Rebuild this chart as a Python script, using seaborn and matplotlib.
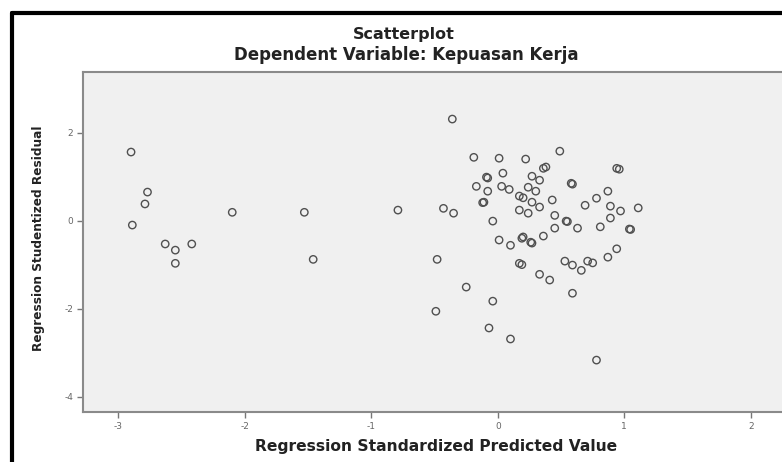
import matplotlib
matplotlib.use("Agg")
import matplotlib.pyplot as plt
from matplotlib.lines import Line2D
import seaborn as sns
import pandas as pd

# Regression Standardized Predicted Value
pred_left = [-2.90, -2.89, -2.77, -2.79, -2.63, -2.55, -2.55, -2.42, -2.10, -1.53,
             -1.46, -0.79, -0.43, -0.35, -0.48, -0.25, -0.49, -0.36]
resid_left = [1.56, -0.10, 0.65, 0.38, -0.53, -0.67, -0.97, -0.53, 0.19, 0.19,
              -0.88, 0.24, 0.28, 0.17, -0.88, -1.51, -2.06, 2.31]

pred_cluster = [-0.19, 0.01, 0.22, 0.36, 0.38, 0.49, 0.94, 0.96,
                -0.09, -0.08, 0.04, 0.27, 0.33,
                -0.17, -0.08, 0.03, 0.09, 0.24, 0.30,
                0.58, 0.59, 0.87, 0.78,
                -0.11, -0.12, 0.17, 0.20, 0.27, 0.33, 0.43,
                0.69, 0.89, 0.97, 1.11,
                0.17, 0.24, 0.45, 0.89,
                -0.04, 0.54, 0.55, 0.45, 0.63, 0.81, 1.04, 1.05,
                0.01, 0.10, 0.19, 0.20, 0.26, 0.27, 0.36,
                0.94, 0.87,
                0.17, 0.19, 0.53, 0.59, 0.66, 0.71, 0.75,
                0.33, 0.41, 0.59, -0.04, -0.07, 0.10, 0.78]
resid_cluster = [1.44, 1.42, 1.40, 1.19, 1.22, 1.58, 1.19, 1.17,
                 0.99, 0.97, 1.08, 1.01, 0.92,
                 0.78, 0.67, 0.78, 0.71, 0.76, 0.67,
                 0.85, 0.83, 0.67, 0.51,
                 0.42, 0.41, 0.56, 0.52, 0.42, 0.31, 0.47,
                 0.35, 0.33, 0.22, 0.29,
                 0.24, 0.17, 0.12, 0.06,
                 -0.01, -0.01, -0.02, -0.17, -0.17, -0.14, -0.19, -0.20,
                 -0.44, -0.56, -0.40, -0.37, -0.49, -0.51, -0.35,
                 -0.64, -0.83,
                 -0.97, -1.00, -0.92, -1.01, -1.13, -0.92, -0.96,
                 -1.22, -1.35, -1.65, -1.83, -2.44, -2.69, -3.17]

x_ticks = [-3, -2, -1, 0, 1, 2]
y_ticks = [2, 0, -2, -4]

title = "Scatterplot"
subtitle = "Dependent Variable: Kepuasan Kerja"
x_label = "Regression Standardized Predicted Value"
y_label = "Regression Studentized Residual"

df = pd.DataFrame({
    "pred": pred_left + pred_cluster,
    "resid": resid_left + resid_cluster,
})

sns.set_theme(style="white")
plt.rcParams["font.family"] = ["DejaVu Sans"]

fig = plt.figure(figsize=(7.82, 4.62), dpi=100, facecolor="white")
ax = fig.add_axes([83 / 782, 50 / 462, 707 / 782, 340 / 462])
ax.set_facecolor("#f0f0f0")

sns.scatterplot(data=df, x="pred", y="resid", ax=ax, marker="o", s=28,
                facecolor="none", edgecolor="#505050", linewidth=1.0)

ax.set_xlim(-3.28, 2.31)
ax.set_ylim(-4.35, 3.38)
ax.set_xticks(x_ticks)
ax.set_yticks(y_ticks)
ax.set_xticklabels([str(v) for v in x_ticks])
ax.set_yticklabels([str(v) for v in y_ticks])
ax.tick_params(axis="both", direction="out", length=4, width=1, color="#777777",
               labelsize=6.5, labelcolor="#666666", bottom=True, left=True, pad=3)

for side in ["left", "bottom", "top"]:
    ax.spines[side].set_visible(True)
    ax.spines[side].set_color("#8a8a8a")
    ax.spines[side].set_linewidth(1.5)
ax.spines["right"].set_visible(False)

ax.set_xlabel("")
ax.set_ylabel("")
fig.text(436 / 782, 1 - 446 / 462, x_label, fontsize=11.2, fontweight="bold",
         color="#222222", ha="center", va="center")
fig.text(39 / 782, 1 - 238 / 462, y_label, rotation=90, fontsize=8.7,
         fontweight="bold", color="#222222", ha="center", va="center")

fig.text(404 / 782, 1 - 35 / 462, title, fontsize=11.5, fontweight="bold",
         color="#222222", ha="center", va="center")
fig.text(406 / 782, 1 - 55 / 462, subtitle, fontsize=12, fontweight="bold",
         color="#222222", ha="center", va="center")

# outer black frame (left and top edges visible)
fig.add_artist(Line2D([12 / 782, 12 / 782], [0, 1 - 13 / 462], color="black",
                      linewidth=3, transform=fig.transFigure))
fig.add_artist(Line2D([12 / 782, 1], [1 - 13 / 462, 1 - 13 / 462], color="black",
                      linewidth=3, transform=fig.transFigure))

fig.savefig("out.png", dpi=100, facecolor="white")
